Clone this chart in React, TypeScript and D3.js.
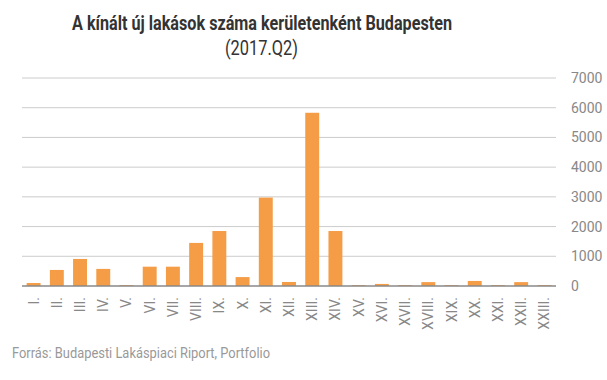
import React from "react";
import * as d3 from "d3";

const categories = ["I.", "II.", "III.", "IV.", "V.", "VI.", "VII.", "VIII.", "IX.", "X.", "XI.", "XII.", "XIII.", "XIV.", "XV.", "XVI.", "XVII.", "XVIII.", "XIX.", "XX.", "XXI.", "XXII.", "XXIII."];
const values = [100, 540, 910, 575, 30, 650, 650, 1450, 1850, 300, 2975, 135, 5830, 1850, 30, 70, 30, 130, 30, 170, 30, 130, 30];
const yTicks = [0, 1000, 2000, 3000, 4000, 5000, 6000, 7000];

const W = 607, H = 380;
const left = 22, right = 556, top = 78, bottom = 286;

export default function App() {
  const x = d3.scaleBand().domain(categories).range([left, right]).paddingInner(0.4).paddingOuter(0.2);
  const y = d3.scaleLinear().domain([0, 7000]).range([bottom, top]);
  const font = "Roboto, sans-serif";
  return (
    <svg width={W} height={H} style={{ position: "absolute", left: 0, top: 0, background: "#fff" }}>
      <text x={72} y={30} fontFamily={font} fontWeight="bold" fontSize={20.5} fill="#333" textLength={380} lengthAdjust="spacingAndGlyphs">A kínált új lakások száma kerületenként Budapesten</text>
      <text x={225} y={55} fontFamily={font} fontSize={20.5} fill="#333" textLength={73} lengthAdjust="spacingAndGlyphs">(2017.Q2)</text>
      {yTicks.map((t) => (
        <g key={t}>
          {t > 0 && <line x1={left} x2={right} y1={y(t)} y2={y(t)} stroke="#ccc" strokeWidth={1} />}
          <text x={571} y={y(t) + 5} textAnchor="start" fontFamily={font} fontSize={14} fill="#888">{t}</text>
        </g>
      ))}
      {categories.map((c, i) => (
        <rect key={c} x={x(c)} y={y(values[i])} width={x.bandwidth()} height={bottom - y(values[i])} fill="#F59C46" />
      ))}
      <line x1={left} x2={right} y1={bottom} y2={bottom} stroke="#888" strokeWidth={1.5} />
      {categories.map((c) => (
        <text key={c} transform={`translate(${(x(c) as number) + x.bandwidth() / 2 + 5},297) rotate(-90)`} textAnchor="end" fontFamily={font} fontSize={14} fill="#888">{c}</text>
      ))}
      <text x={12} y={358} fontFamily={font} fontSize={15} fill="#999" textLength={258} lengthAdjust="spacingAndGlyphs">Forrás: Budapesti Lakáspiaci Riport, Portfolio</text>
    </svg>
  );
}
